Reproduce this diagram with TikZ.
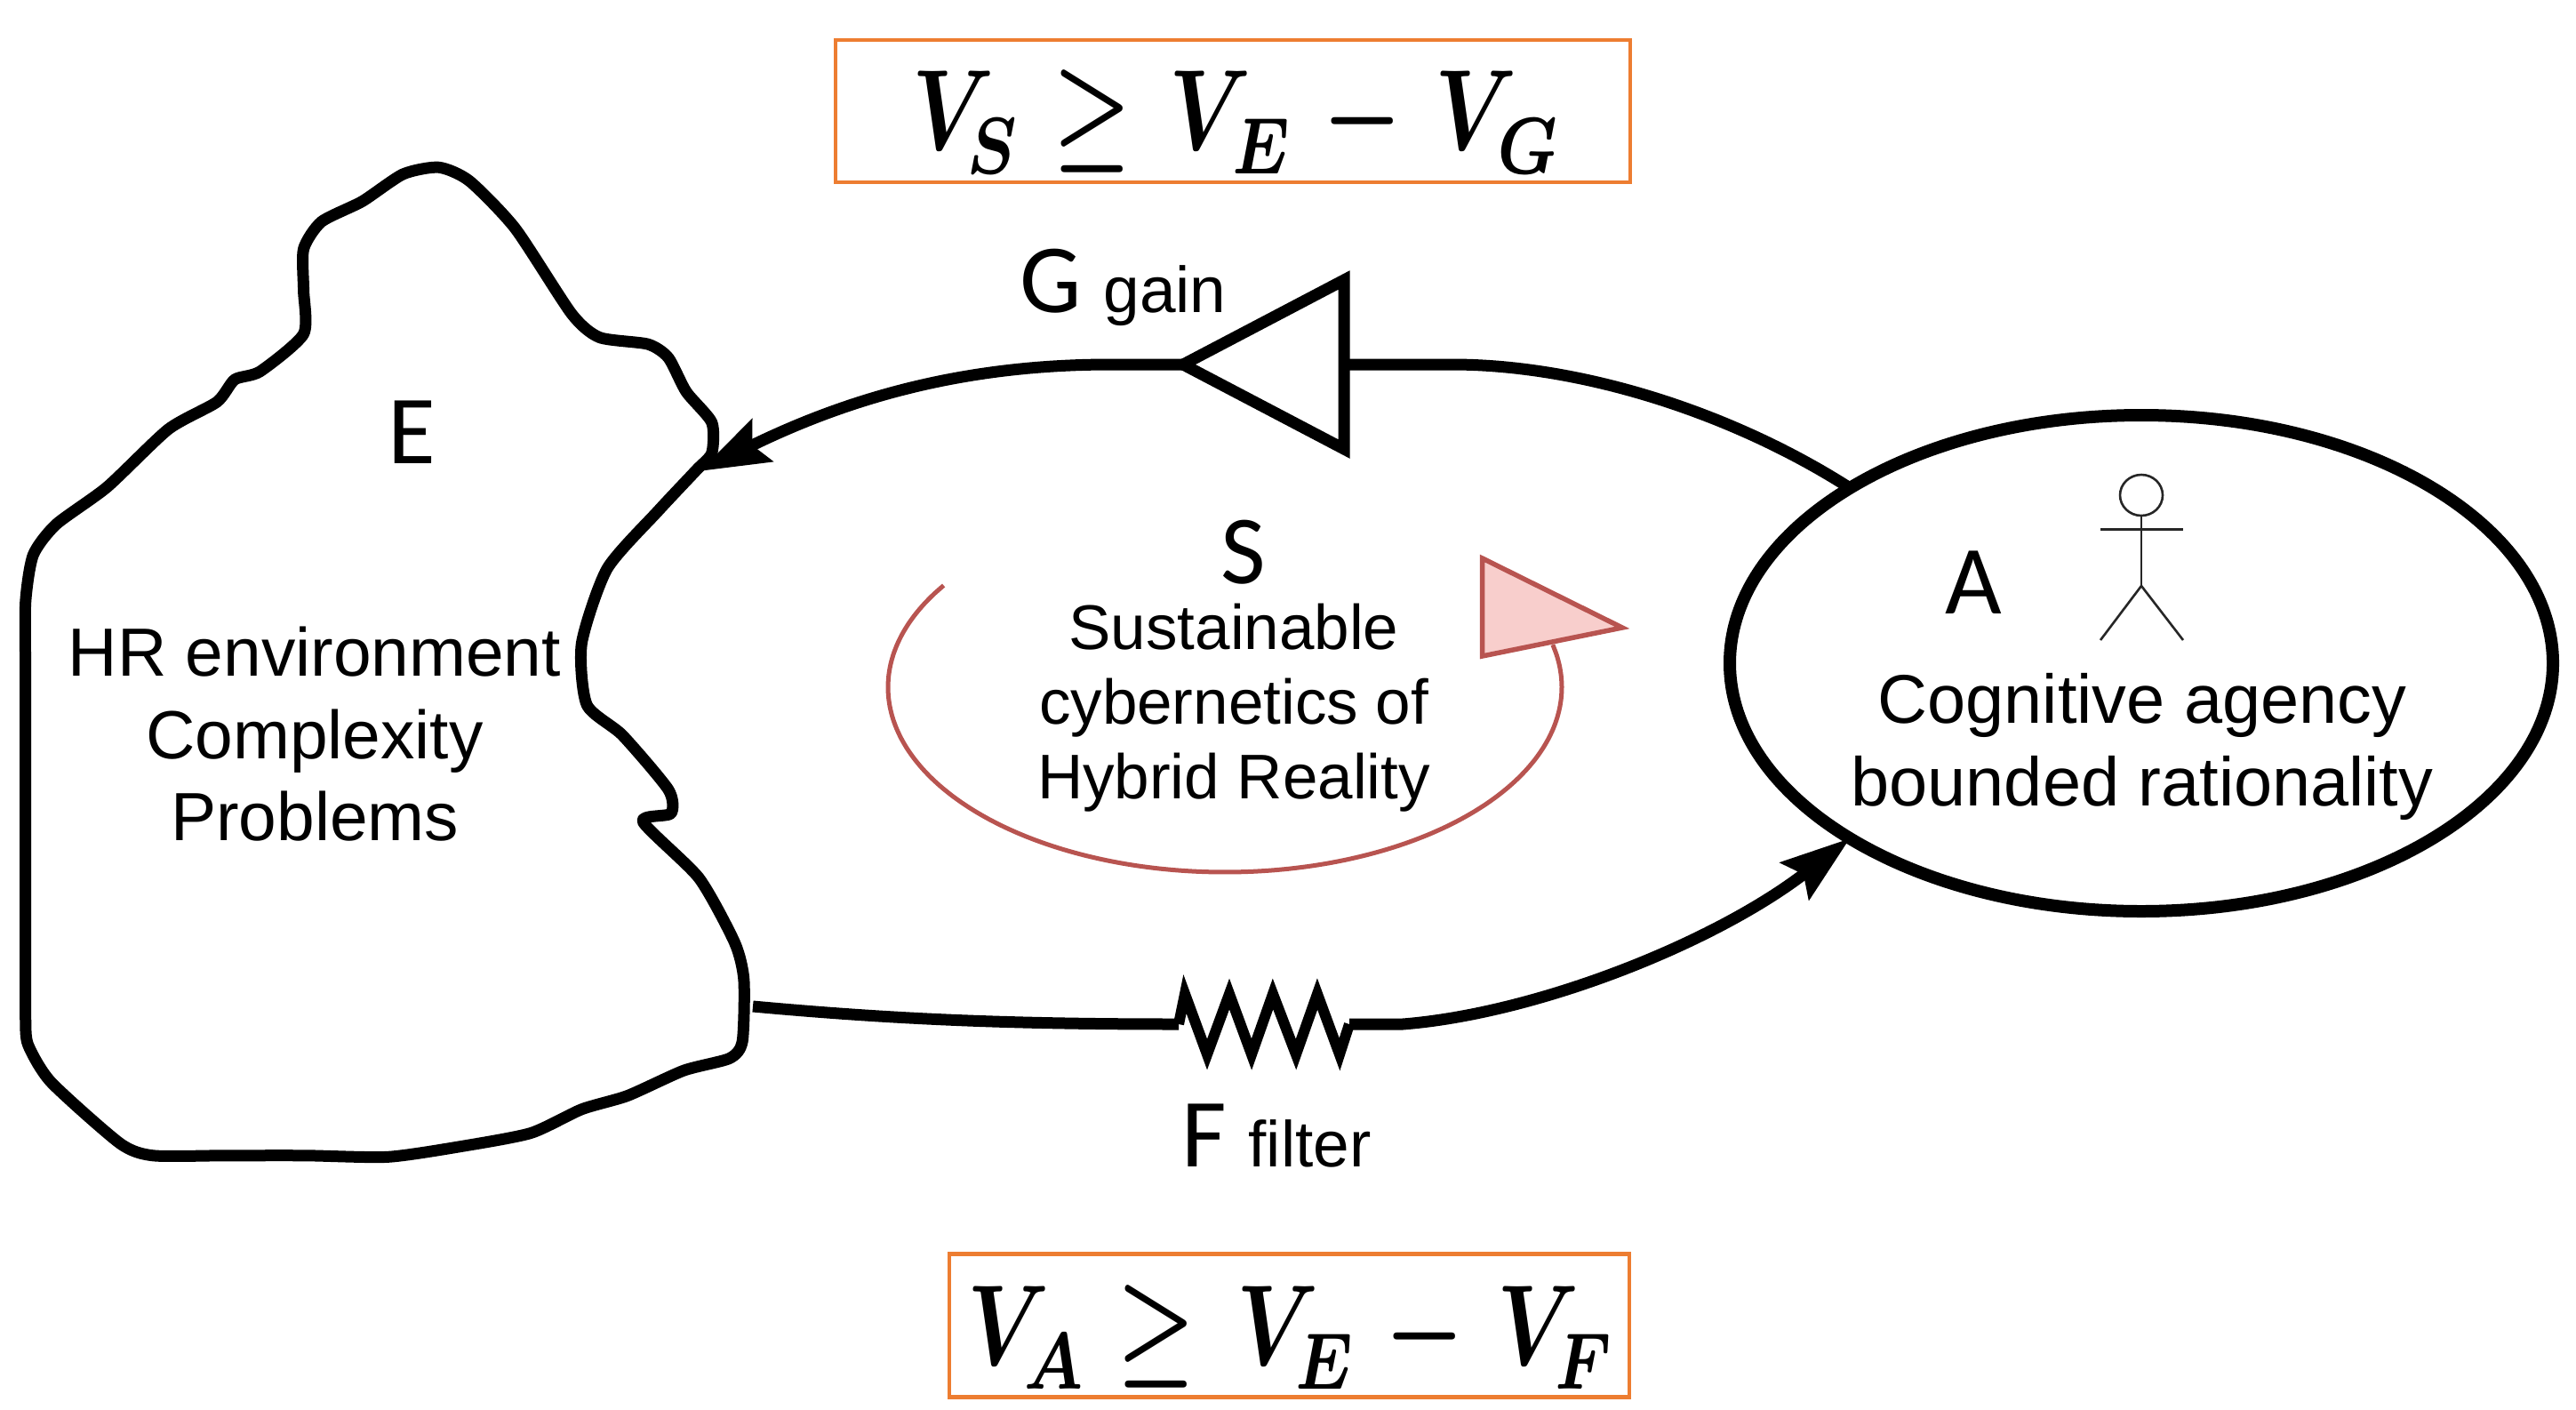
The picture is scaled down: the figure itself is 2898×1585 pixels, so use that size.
\documentclass[tikz,border=0pt]{standalone}
\usepackage{fontspec}
\setmainfont{Liberation Sans}
\newfontfamily\lblfont{Carlito}
\usetikzlibrary{arrows.meta,shapes.geometric}
\definecolor{boxorange}{HTML}{ED7D31}
\definecolor{loopred}{HTML}{B85450}
\definecolor{looppink}{HTML}{F8CECC}
\newcommand{\Vsb}[2]{V\kern#1pt\lower2.1pt\hbox{$\scriptstyle #2$}}
\tikzset{
  heavy/.style={line width=13pt,black},
  wire/.style={heavy,line cap=butt},
  headtip/.style={-{Stealth[length=78pt,width=52pt,inset=12pt]}},
  eqbox/.style={draw=boxorange,line width=4.5pt},
  eqtext/.style={anchor=base west,inner sep=0pt,xscale=9.9,yscale=12.9},
  caplabel/.style={anchor=base west,inner sep=0pt,font=\lblfont\fontsize{110}{130}\selectfont},
  blocktext/.style={inner sep=0pt,align=center},
  figure/.style={line width=2.6pt,draw=black!85}
}
\begin{document}
\boldmath
\begin{tikzpicture}[x=1pt,y=-1pt]
\useasboundingbox (0,0) rectangle (2898,1585);
\fill[white] (0,0) rectangle (2898,1585);

% equation boxes
\node[eqbox,minimum width=894pt,minimum height=160pt,inner sep=0pt,outer sep=0pt] (boxS) at (1387,125) {};
\node[eqtext] (eqS) at (1024.5,168) {$\Vsb{-3.2}{S}\kern4.05pt{\ge}\kern4.3pt\Vsb{-2.25}{E}\kern3.7pt{-}\kern3.75pt\Vsb{-2.25}{G}$};
\node[eqbox,minimum width=765pt,minimum height=161pt,inner sep=0pt,outer sep=0pt] (boxA) at (1450.5,1491) {};
\node[eqtext] (eqA) at (1087,1535) {$\Vsb{-3}{A}\kern3.8pt{\ge}\kern4.65pt\Vsb{-2.8}{E}\kern3.7pt{-}\kern3.7pt\Vsb{-2.87}{F}$};

% environment blob
\begin{scope}[shift={(0,150)},x=.574pt,y=-.765pt]
\draw[line width=13pt,line join=round] plot[smooth cycle,tension=.4] coordinates {
 (330,435)(425,395)(460,362)(510,350)(595,295)(595,230)(595,170)(630,130)(710,100)(790,60)(860,50)(920,70)(1010,140)(1120,265)(1175,300)(1270,310)(1310,330)(1345,380)(1395,425)(1395,470)(1365,495)
 (1290,555)(1190,640)(1140,750)(1150,840)(1220,885)(1310,965)(1315,1000)(1260,1012)(1370,1095)(1440,1190)(1458,1245)(1455,1335)(1430,1360)(1340,1378)(1230,1415)(1140,1435)(1040,1470)(900,1490)(760,1505)(600,1503)(440,1503)(300,1503)(235,1485)(100,1395)(55,1340)(50,1300)(50,1200)(50,1000)(50,800)(50,690)(65,620)(110,575)(210,520)};
\end{scope}
\coordinate (eIn) at (787,530);
\coordinate (eOut) at (847,1132);

% agent ellipse
\node[ellipse,draw,line width=14pt,minimum width=926pt,minimum height=558pt,inner sep=0pt,outer sep=0pt] (agent) at (2409,746) {};
\coordinate (aOut) at (agent.149);
\coordinate (aIn) at (agent.211.3);

% gain triangle
\coordinate (gTip) at (1331,410);
\coordinate (gBase) at (1512,410);
\draw[line width=13pt,line join=miter] (gTip) -- (1512,315) -- (1512,505) -- cycle;

% filter zigzag
\coordinate (fIn) at (1326,1152);
\coordinate (fOut) at (1518,1152);
\draw[line width=12pt,line join=miter,miter limit=10] (fIn) -- (1333,1118) -- (1358,1186) -- (1383,1118) -- (1408,1186) -- (1432,1118) -- (1458,1186) -- (1482,1118) -- (1507,1186) -- (fOut);

% connectors
\draw[wire] (aOut) .. controls (1950,465) and (1780,410) .. (1633,410) -- (gBase);
\draw[wire,headtip] (gTip) -- (1250,410) .. controls (1090,410) and (960,445) .. (eIn);
\draw[wire] (eOut) .. controls (1000,1146) and (1130,1152) .. (fIn);
\draw[wire,headtip] (fOut) -- (1578,1152) .. controls (1730,1140) and (1930,1060) .. (aIn);

% red loop
\draw[loopred,line width=5pt] plot[domain=146.6:373.3,samples=70,smooth] ({1378+379*cos(\x)},{773-208*sin(\x)});
\draw[loopred,fill=looppink,line width=5.5pt,line join=miter] (1667.6,628) -- (1825,706) -- (1667.6,738) -- cycle;

% actor
\draw[figure] (2409,557) ellipse [x radius=24pt,y radius=23pt];
\draw[figure] (2409,580) -- (2409,659);
\draw[figure] (2363,595.5) -- (2456,595.5);
\draw[figure] (2363,720) -- (2409,659) -- (2456,720);

% labels
\node[caplabel] (lblE) at (436,521) {E};
\node[caplabel] (lblS) at (1373,656) {S};
\node[caplabel] (lblA) at (2188,690.6) {A};
\node[anchor=base west,inner sep=0pt] (lblG) at (1147,351) {{\lblfont\fontsize{110}{130}\selectfont G }{\fontsize{73}{85}\selectfont gain}};
\node[anchor=base west,inner sep=0pt] (lblF) at (1329,1312) {{\lblfont\fontsize{110}{130}\selectfont F }{\fontsize{73}{85}\selectfont filter}};

\node[blocktext,font=\fontsize{76.7}{92.5}\selectfont] (envtext) at (354,826) {HR environment\\Complexity\\Problems};
\node[blocktext,font=\fontsize{71}{84}\selectfont] (loopstext) at (1388,796) {Sustainable\\cybernetics of\hspace*{24pt}\\Hybrid Reality};
\node[blocktext,font=\fontsize{77.5}{92.7}\selectfont] (agenttext) at (2410,840) {Cognitive agency\\bounded rationality};
\end{tikzpicture}
\end{document}
